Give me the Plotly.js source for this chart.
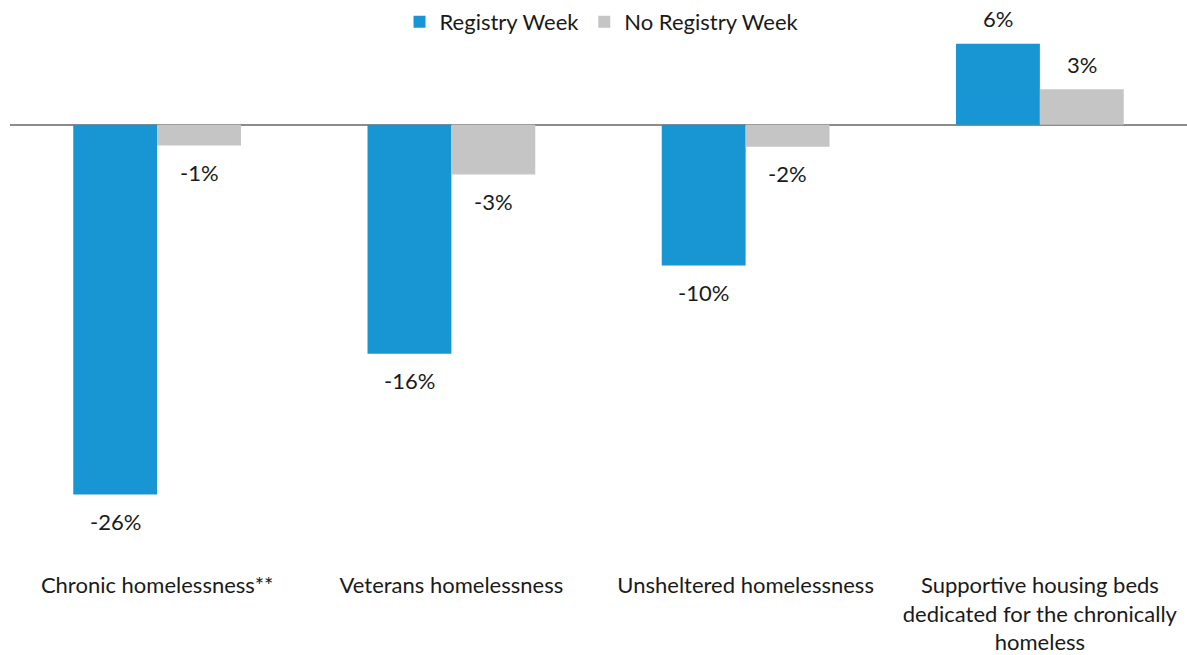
<!DOCTYPE html>
<html>
<head>
<meta charset="utf-8">
<script src="https://cdn.plot.ly/plotly-3.0.1.min.js"></script>
<style>html,body{margin:0;padding:0;background:#fff;}#chart{width:1187px;height:655px;}</style>
</head>
<body>
<div id="chart"></div>
<script>
const categories = [
  "Chronic homelessness**",
  "Veterans homelessness",
  "Unsheltered homelessness",
  "Supportive housing beds<br>dedicated for the chronically<br>homeless"
];
const registryWeek = [-26.0, -16.1, -9.9, 5.7];
const noRegistryWeek = [-1.45, -3.5, -1.55, 2.5];
const registryLabels = ["-26%", "-16%", "-10%", "6%"];
const noRegistryLabels = ["-1%", "-3%", "-2%", "3%"];

const BLUE = "#1896D3";
const GRAY = "#C5C5C5";
const FONT = "Lato, 'Open Sans', sans-serif";
const FS = 22;

const traces = [
  {type: "bar", name: "Registry Week", x: categories, y: registryWeek,
   marker: {color: BLUE}, hoverinfo: "none"},
  {type: "bar", name: "No Registry Week", x: categories, y: noRegistryWeek,
   marker: {color: GRAY}, hoverinfo: "none"}
];

const annotations = [];
const barOffset = 0.1425;
categories.forEach((c, i) => {
  [[registryWeek, registryLabels, -barOffset], [noRegistryWeek, noRegistryLabels, barOffset]].forEach(([vals, labs, off]) => {
    const v = vals[i];
    annotations.push({
      x: i + off, y: v, xref: "x", yref: "y",
      text: labs[i], showarrow: false,
      yanchor: "middle", xanchor: "center",
      yshift: v < 0 ? -27 : 25,
      font: {family: FONT, size: FS, color: "#1a1a1a"}
    });
  });
});

const layout = {
  width: 1187, height: 655,
  margin: {l: 10, r: 0, t: 11, b: 85},
  paper_bgcolor: "#fff", plot_bgcolor: "#fff",
  font: {family: FONT, size: FS, color: "#1a1a1a"},
  barmode: "group", bargap: 0.43, bargroupgap: 0,
  showlegend: true,
  legend: {orientation: "h", x: 0.503, xanchor: "center", y: 1.018, yanchor: "top",
           font: {family: FONT, size: FS, color: "#1a1a1a"}, bgcolor: "rgba(0,0,0,0)",
           traceorder: "normal", itemwidth: 30},
  xaxis: {type: "category", showgrid: false, showline: false, ticks: "", zeroline: false,
          automargin: false, ticklabelstandoff: 0,
          tickfont: {family: FONT, size: FS, color: "#1a1a1a"}},
  yaxis: {range: [-31.3, 8], showgrid: false, showticklabels: false, ticks: "", automargin: false,
          zeroline: true, zerolinecolor: "#8c8c8c", zerolinewidth: 2, showline: false},
  annotations: annotations
};

Plotly.newPlot("chart", traces, layout, {displayModeBar: false, staticPlot: true});
</script>
</body>
</html>
